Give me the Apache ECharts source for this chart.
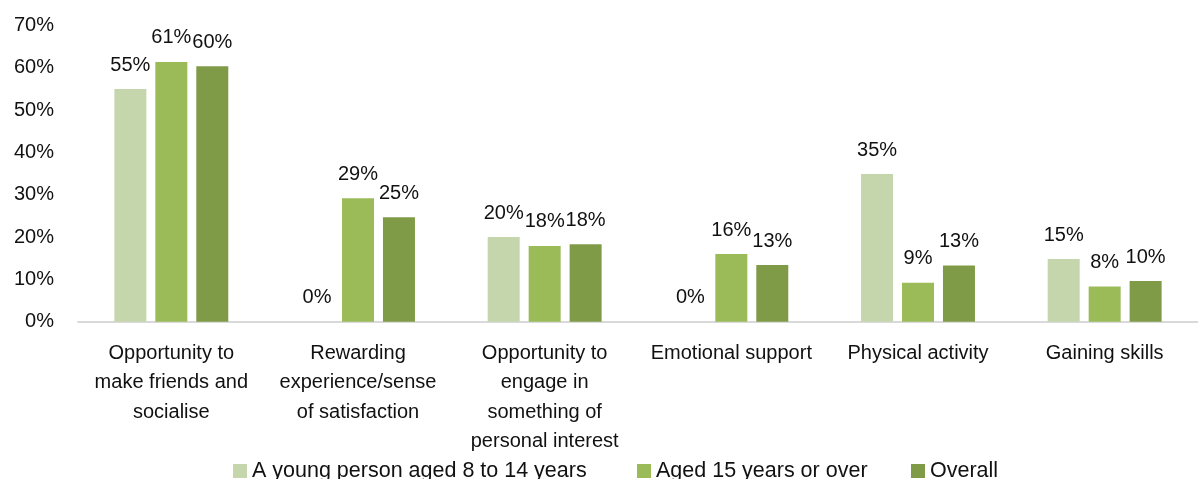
<!DOCTYPE html>
<html>
<head>
<meta charset="utf-8">
<script src="https://cdn.jsdelivr.net/npm/echarts@6/dist/echarts.min.js"></script>
<style>
  html, body { margin: 0; padding: 0; background: #fff; }
  #chart { width: 1198px; height: 479px; }
</style>
</head>
<body>
<div id="chart"></div>
<script>
// categories (line breaks as in the original labels)
var categories = [
  'Opportunity to\nmake friends and\nsocialise',
  'Rewarding\nexperience/sense\nof satisfaction',
  'Opportunity to\nengage in\nsomething of\npersonal interest',
  'Emotional support',
  'Physical activity',
  'Gaining skills'
]
var seriesNames = ['A young person aged 8 to 14 years', 'Aged 15 years or over', 'Overall']
var youngValues = [0.550, 0, 0.200, 0, 0.349, 0.148]
var olderValues = [0.614, 0.292, 0.179, 0.160, 0.092, 0.083]
var overallValues = [0.604, 0.247, 0.183, 0.134, 0.133, 0.096]
var yTicks = [0, 0.1, 0.2, 0.3, 0.4, 0.5, 0.6, 0.7]

var colors = ['#C6D6AC', '#9BBB59', '#7F9B48']
var fontFamily = '"Liberation Sans", Arial, sans-serif'
var textColor = '#111'

var chart = echarts.init(document.getElementById('chart'))

var labelOption = {
  show: true,
  position: 'top',
  distance: 14,
  fontSize: 20,
  fontFamily: fontFamily,
  color: textColor,
  formatter: function (p) {
    return Math.round(p.value * 100) + '%'
  }
}

var allValues = [youngValues, olderValues, overallValues]
var series = allValues.map(function (vals, i) {
  return {
    name: seriesNames[i],
    type: 'bar',
    data: vals,
    barWidth: 32,
    barGap: '28%',
    itemStyle: { color: colors[i] },
    label: labelOption
  }
})

// one legend per item so the spacing matches the original
var legendLeft = [233, 637, 911]
var legends = seriesNames.map(function (name, i) {
  return {
    data: [name],
    left: legendLeft[i],
    top: 460,
    padding: 0,
    itemWidth: 14,
    itemHeight: 14,
    itemGap: 0,
    icon: 'rect',
    textStyle: { fontSize: 21.5, fontFamily: fontFamily, color: textColor }
  }
})

var option = {
  animation: false,
  legend: legends,
  grid: {
    left: 78,
    right: 0,
    top: 25.6,
    bottom: 157.3
  },
  xAxis: {
    type: 'category',
    data: categories,
    axisLine: { show: true, lineStyle: { color: '#D9D9D9', width: 2 } },
    axisTick: { show: false },
    axisLabel: {
      interval: 0,
      margin: 17,
      fontSize: 20,
      lineHeight: 29.5,
      fontFamily: fontFamily,
      color: textColor,
      align: 'center'
    }
  },
  yAxis: {
    type: 'value',
    min: yTicks[0],
    max: yTicks[yTicks.length - 1],
    interval: 0.1,
    splitLine: { show: false },
    axisLine: { show: false },
    axisTick: { show: false },
    axisLabel: {
      margin: 24,
      fontSize: 20,
      fontFamily: fontFamily,
      color: textColor,
      formatter: function (v) {
        return Math.round(v * 100) + '%'
      }
    }
  },
  series: series
}

chart.setOption(option)
</script>
</body>
</html>
